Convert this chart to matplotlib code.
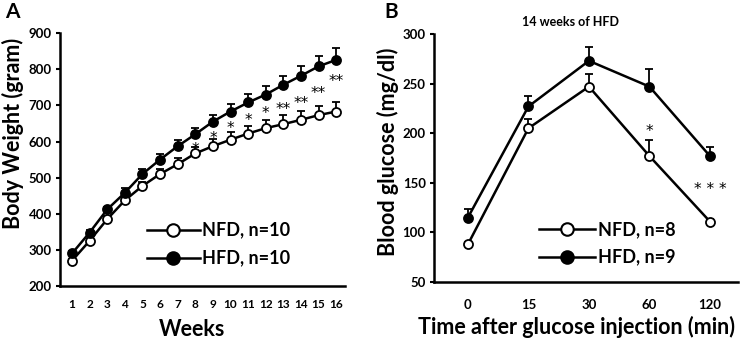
import matplotlib
matplotlib.use('Agg')
import matplotlib.pyplot as plt
import numpy as np

plt.rcParams['font.family'] = ['Lato', 'DejaVu Sans']
plt.rcParams['font.weight'] = 'bold'

# Panel A: body weight over 16 weeks
weeks = list(range(1, 17))
nfd_weight = [270, 325, 385, 437, 477, 510, 537, 567, 587, 605, 622, 637, 648, 660, 673, 683]
nfd_weight_err = [5, 6, 8, 9, 12, 15, 17, 18, 20, 21, 22, 23, 24, 24, 25, 26]
hfd_weight = [290, 348, 412, 458, 510, 550, 587, 620, 655, 683, 708, 730, 757, 782, 808, 826]
hfd_weight_err = [6, 7, 8, 12, 14, 15, 16, 17, 19, 21, 23, 25, 25, 27, 30, 32]
star_weeks = [8, 9, 10, 11, 12, 13, 14, 15, 16]
star_labels = ['*', '*', '*', '*', '*', '**', '**', '**', '**']
star_y = [590, 620, 648, 670, 690, 700, 716, 746, 778]

# Panel B: glucose tolerance test
gtt_times = ['0', '15', '30', '60', '120']
nfd_glucose = [88, 205, 247, 177, 111]
nfd_glucose_err = [2, 9, 13, 16, 3]
hfd_glucose = [115, 227, 273, 247, 177]
hfd_glucose_err = [9, 11, 14, 18, 9]
gtt_stars = {3: '*', 4: '* * *'}
gtt_star_y = {3: 207, 4: 148}


def draw_series(ax, x, y, err, filled):
    ax.errorbar(x, y, yerr=[np.zeros(len(err)), err], fmt='none', ecolor='black',
                elinewidth=1.3, capsize=3, capthick=1.3, zorder=2)
    ax.plot(x, y, color='black', linewidth=1.8, marker='o', markersize=6.5,
            markerfacecolor='black' if filled else 'white', markeredgecolor='black',
            markeredgewidth=1.3, zorder=3)


def style_axes(ax):
    for side in ['top', 'right']:
        ax.spines[side].set_visible(False)
    for side in ['left', 'bottom']:
        ax.spines[side].set_linewidth(1.8)
    ax.tick_params(axis='y', length=3, width=1.5, labelsize=9.5, pad=3)
    ax.tick_params(axis='x', length=0, labelsize=8.5, pad=9)


def draw_legend(ax, x0, x1, ys, labels):
    for y, lab, filled in zip(ys, labels, [False, True]):
        ax.plot([x0, x1], [y, y], color='black', linewidth=1.8, transform=ax.transAxes,
                clip_on=False, zorder=4)
        ax.plot([(x0 + x1) / 2], [y], marker='o', markersize=9, color='black',
                markerfacecolor='black' if filled else 'white', markeredgewidth=1.5,
                transform=ax.transAxes, clip_on=False, zorder=5)
        ax.text(x1 + 0.01, y, lab, transform=ax.transAxes, fontsize=13,
                fontweight='bold', va='center', ha='left')


def draw_stars(ax, xs, labels, ys):
    for x, lab, y in zip(xs, labels, ys):
        ax.text(x, y, lab, ha='center', va='center', fontsize=11,
                family='DejaVu Sans', fontweight='normal')


fig = plt.figure(figsize=(7.5, 3.39), dpi=100)

# ---- Panel A ----
ax1 = fig.add_axes([0.08, 0.1563, 0.38, 0.746])
draw_series(ax1, weeks, nfd_weight, nfd_weight_err, False)
draw_series(ax1, weeks, hfd_weight, hfd_weight_err, True)
draw_stars(ax1, star_weeks, star_labels, [y - 12 for y in star_y])
ax1.set_xlim(0.32, 16.5)
ax1.set_ylim(200, 900)
ax1.set_xticks(weeks)
ax1.set_yticks(range(200, 901, 100))
style_axes(ax1)
fig.text(0.256, 0.008, 'Weeks', fontsize=15.5, fontweight='bold', ha='center', va='baseline')
fig.text(0.017, 0.605, 'Body Weight (gram)', fontsize=15.5, fontweight='bold',
         rotation=90, ha='center', va='center')
draw_legend(ax1, 0.305, 0.49, [0.221, 0.111], ['NFD, n=10', 'HFD, n=10'])
fig.text(0.007, 0.965, 'A', fontsize=15, fontweight='bold', va='center', ha='left')

# ---- Panel B ----
ax2 = fig.add_axes([0.5787, 0.168, 0.405, 0.7316])
xb = np.arange(len(gtt_times))
draw_series(ax2, xb, nfd_glucose, nfd_glucose_err, False)
draw_series(ax2, xb, hfd_glucose, hfd_glucose_err, True)
draw_stars(ax2, [xb[i] for i in gtt_stars], list(gtt_stars.values()),
           [gtt_star_y[i] - 5 for i in gtt_stars])
ax2.set_xlim(-0.56, 4.46)
ax2.set_ylim(50, 300)
ax2.set_xticks(xb)
ax2.set_xticklabels(gtt_times)
ax2.set_yticks(range(50, 301, 50))
style_axes(ax2)
ax2.tick_params(axis='x', labelsize=9.5, pad=12)
fig.text(0.768, 0.015, 'Time after glucose injection (min)', fontsize=15.5,
         fontweight='bold', ha='center', va='baseline')
fig.text(0.517, 0.552, 'Blood glucose (mg/dl)', fontsize=15.5, fontweight='bold',
         rotation=90, ha='center', va='center')
fig.text(0.761, 0.935, '14 weeks of HFD', fontsize=9, fontweight='bold',
         ha='center', va='center')
draw_legend(ax2, 0.345, 0.53, [0.212, 0.1], ['NFD, n=8', 'HFD, n=9'])
fig.text(0.512, 0.965, 'B', fontsize=15, fontweight='bold', va='center', ha='left')

fig.savefig('out.png', dpi=100)
